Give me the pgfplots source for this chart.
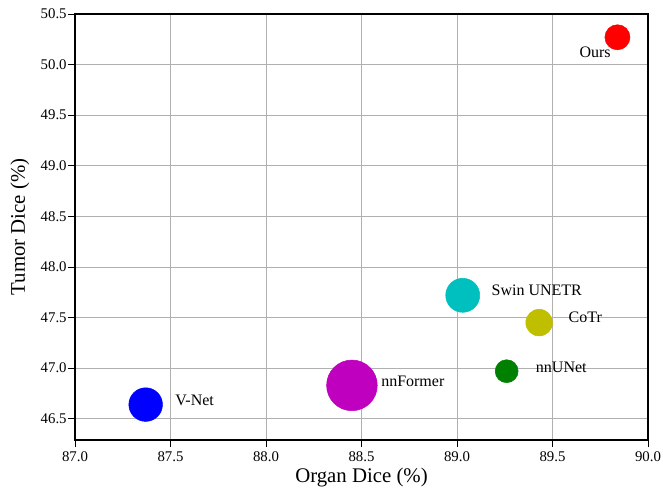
\documentclass[border=0pt]{standalone}
\usepackage{fontspec}
\setmainfont{Liberation Serif}
\usepackage{pgfplots}
\pgfplotsset{compat=1.18}
\definecolor{mc}{rgb}{0,0.75,0.75}
\definecolor{my}{rgb}{0.75,0.75,0}
\definecolor{mg}{rgb}{0,0.5,0}
\definecolor{mm}{rgb}{0.75,0,0.75}
\begin{document}
\begin{tikzpicture}
\begin{axis}[
  scale only axis,
  width=429.75pt, height=319.5pt,
  xmin=87, xmax=90, ymin=46.29, ymax=50.5,
  xtick={87,87.5,88,88.5,89,89.5,90},
  ytick={46.5,47,47.5,48,48.5,49,49.5,50,50.5},
  /pgf/number format/assume math mode=true,
  /pgf/number format/.cd, fixed, fixed zerofill, precision=1, /pgfplots/.cd,
  tick label style={font=\fontsize{11.1}{13}\selectfont, text=black},
  yticklabel style={xshift=2.5pt},
  tick align=outside, tick pos=left,
  major tick length=5.25pt,
  tick style={black, line width=0.6pt},
  axis line style={black, line width=0.8pt},
  grid=major,
  major grid style={color=black!31, line width=0.6pt},
  xlabel={Organ Dice (\%)}, ylabel={Tumor Dice (\%)},
  label style={font=\fontsize{15.6}{18}\selectfont},
  xlabel style={at={(axis description cs:0.5,-0.0892)}, anchor=center},
  ylabel style={at={(axis description cs:-0.096,0.5)}, anchor=center},
  clip=false,
]
\addplot[only marks, mark=*, mark size=9.4pt, color=red] coordinates {(89.84,50.27)};
\addplot[only marks, mark=*, mark size=12.75pt, color=mc] coordinates {(89.03,47.72)};
\addplot[only marks, mark=*, mark size=10pt, color=my] coordinates {(89.43,47.45)};
\addplot[only marks, mark=*, mark size=8.6pt, color=mg] coordinates {(89.26,46.97)};
\addplot[only marks, mark=*, mark size=19pt, color=mm] coordinates {(88.45,46.83)};
\addplot[only marks, mark=*, mark size=12.6pt, color=blue] coordinates {(87.37,46.64)};
\begin{scope}[every node/.style={font=\fontsize{12}{14}\selectfont, inner sep=0pt}]
\node[anchor=center] at (axis cs:89.723,50.125) {Ours};
\node[anchor=west] at (axis cs:89.18,47.77) {Swin UNETR};
\node[anchor=west] at (axis cs:89.583,47.503) {CoTr};
\node[anchor=west] at (axis cs:89.412,47.009) {nnUNet};
\node[anchor=west] at (axis cs:88.602,46.867) {nnFormer};
\node[anchor=west] at (axis cs:87.524,46.679) {V-Net};
\end{scope}
\end{axis}
\pgfresetboundingbox
\useasboundingbox ([xshift=-56.25pt,yshift=-38.25pt]current axis.south west) rectangle ([xshift=11.25pt,yshift=10.5pt]current axis.north east);
\end{tikzpicture}
\end{document}
